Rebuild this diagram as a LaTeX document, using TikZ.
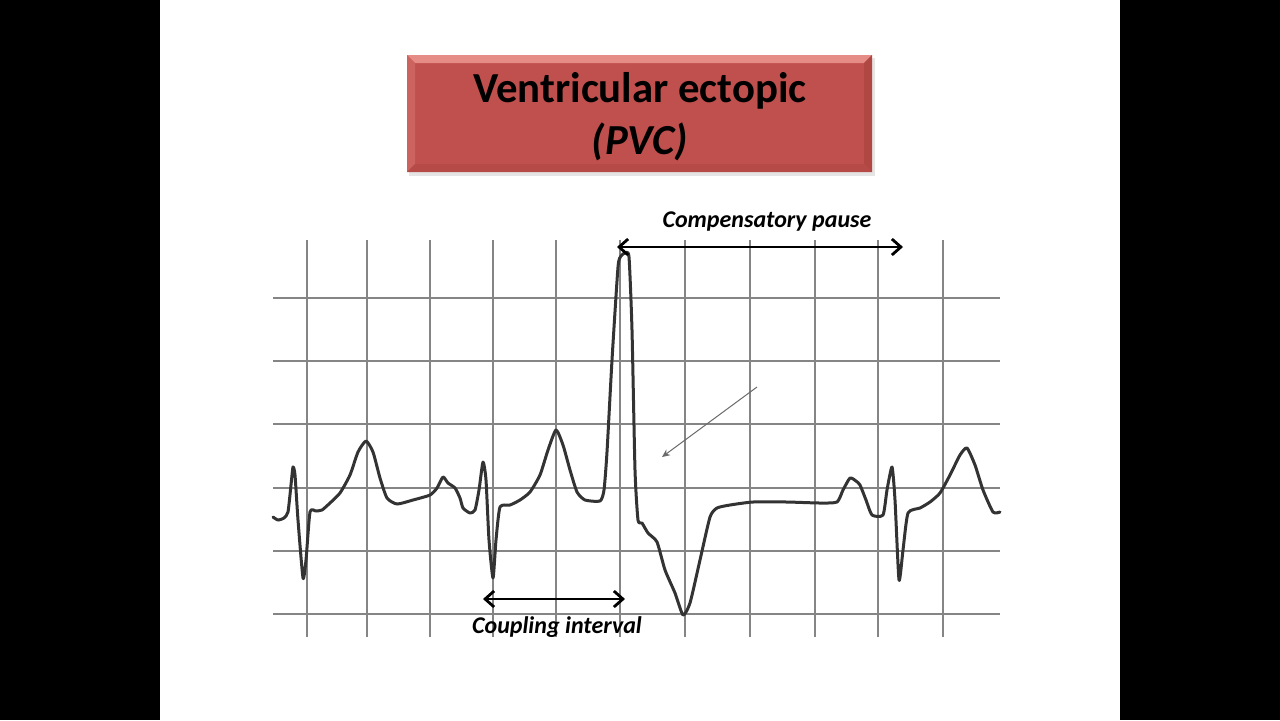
\documentclass[tikz,border=0pt]{standalone}
\usepackage{fontspec}
\setmainfont{Carlito}
\usetikzlibrary{arrows.meta,positioning}
\definecolor{slidered}{HTML}{C0504D}
\definecolor{bevtop}{HTML}{E58C87}
\definecolor{bevside}{HTML}{CD635E}
\definecolor{bevdark}{HTML}{B04743}
\definecolor{gridln}{HTML}{858585}
\definecolor{trace}{HTML}{333333}
\tikzset{
  >={Straight Barb[length=4.5pt,width=8pt]},
  paper/.style={draw=gridln,line width=1pt},
  ecg/.style={draw=trace,line width=1.5pt,line join=round,line cap=round},
  span/.style={<->,line width=1.4pt,draw=black},
  pointer/.style={-{Stealth[length=4pt,width=3.5pt]},draw=gridln!80!black,line width=0.5pt},
  lbl/.style={font=\bfseries\itshape\fontsize{12}{14}\selectfont,inner sep=0pt},
  ttl/.style={font=\bfseries\fontsize{21.4}{26}\selectfont,align=center,inner sep=0pt},
}
\begin{document}
\begin{tikzpicture}[x=0.5pt,y=-0.5pt]
  \useasboundingbox (0,0) rectangle (1280,720);
  \fill[black] (0,0) rectangle (1280,720);
  \fill[white] (160,0) rectangle (1120,720);
  \fill[black!10] (409,58) rectangle (875,176);
  \fill[slidered] (407,55) rectangle (872,172);
  \fill[bevtop] (407,55) -- (872,55) -- (864,63) -- (415,63) -- cycle;
  \fill[bevside] (407,55) -- (415,63) -- (415,164) -- (407,172) -- cycle;
  \fill[bevdark] (872,55) -- (864,63) -- (864,164) -- (872,172) -- cycle;
  \fill[bevdark!70!slidered] (407,172) -- (415,164) -- (864,164) -- (872,172) -- cycle;
  \node[ttl] (title) at (640,117) {Ventricular ectopic\\\textit{(PVC)}};
  \foreach \gx in {307,367,430,493,556,620,685,750,815,878,943}
    \draw[paper] (\gx,240) -- (\gx,637);
  \foreach \gy in {298,361,424,488,551,614}
    \draw[paper] (273,\gy) -- (1000,\gy);
  \draw[ecg] plot[smooth,tension=0.35] coordinates {
    (273,517) (278,520) (284,518) (288,512) (291,485) (293,467) (295,475) (298,520) (303,578) (306,560) (310,512)
    (316,511) (322,510) (330,503) (340,493) (350,475) (358,452) (366,441) (373,452) (380,478) (387,498) (397,504)
    (413,500) (430,495) (437,488) (443,477) (448,483) (455,488) (460,498) (463,508) (470,513) (475,510) (479,490)
    (483,462) (486,480) (489,540) (493,578) (496,540) (500,507) (510,505) (520,500) (530,492) (540,475) (548,450)
    (556,430) (563,445) (570,470) (577,492) (585,500) (600,501) (604,490) (607,452) (612,360) (618,267) (621,256)
    (625,253) (629,257) (632,330) (635,470) (638,520) (642,523) (648,533) (657,542) (665,570) (675,593) (683,615)
    (690,603) (700,560) (710,517) (717,508) (730,505) (753,502) (787,502) (820,503) (837,502) (843,490) (850,478)
    (856,481) (860,485) (866,500) (872,515) (883,515) (887,490) (892,467) (895,500) (899,580) (903,550) (908,513)
    (920,508) (930,502) (940,493) (950,475) (960,455) (967,448) (975,465) (983,490) (993,512) (1000,512)};
  \coordinate (cpL) at (617,247);
  \coordinate (cpR) at (903,247);
  \coordinate (ciL) at (483,599);
  \coordinate (ciR) at (625,599);
  \coordinate (ptrA) at (757,387);
  \coordinate (ptrB) at (662,457);
  \draw[span] (cpL) -- (cpR);
  \draw[span] (ciL) -- (ciR);
  \draw[pointer] (ptrA) -- (ptrB);
  \node[lbl] (cplabel) at (767,222) {Compensatory pause};
  \node[lbl] (cilabel) at (557,627) {Coupling interval};
\end{tikzpicture}
\end{document}
